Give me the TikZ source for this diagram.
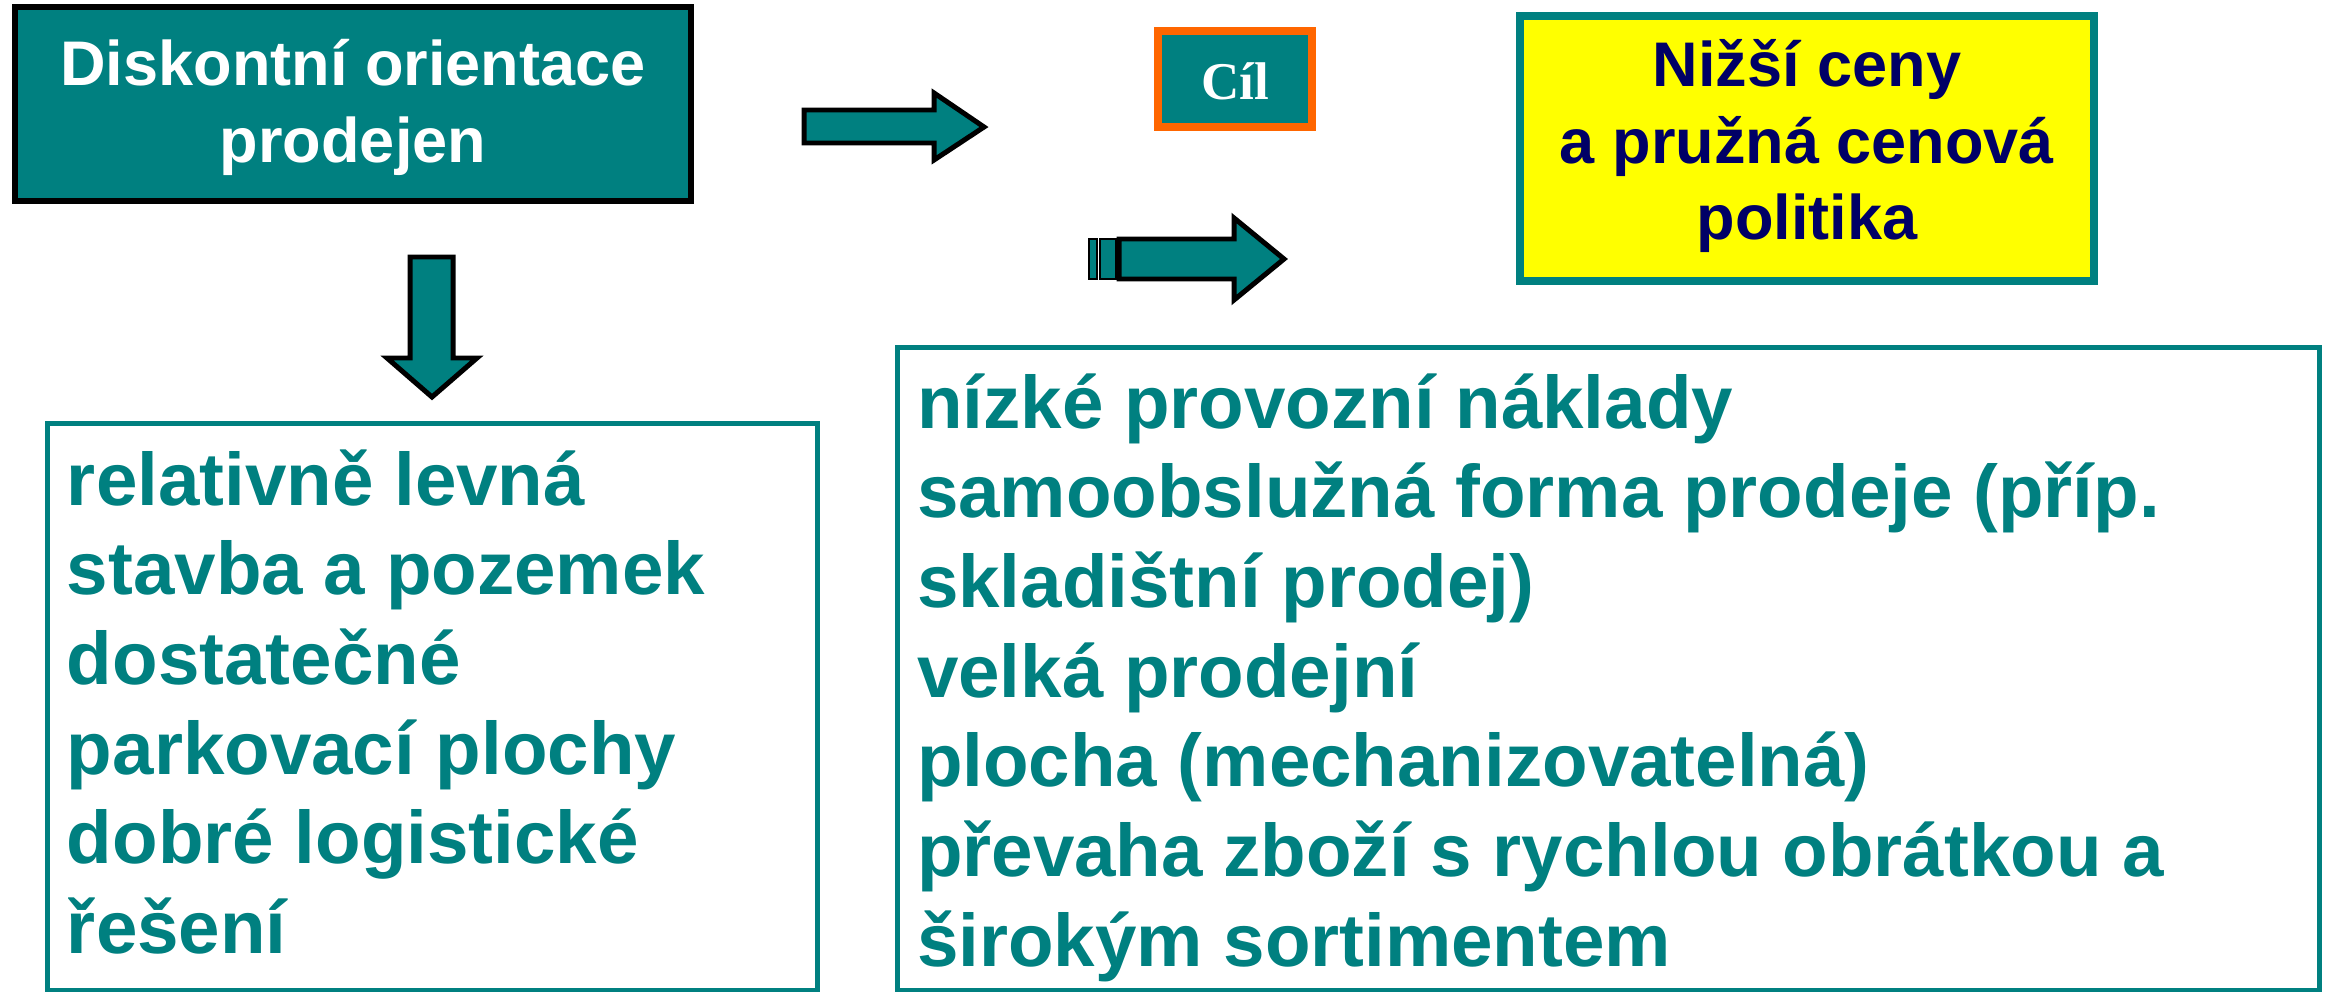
\documentclass[tikz,border=0pt]{standalone}
\usepackage{fontspec}
\setmainfont{Liberation Sans}
\newfontfamily\cilfont{Liberation Serif}
\definecolor{tealc}{RGB}{0,128,128}
\definecolor{navyc}{RGB}{0,0,102}
\definecolor{orangec}{RGB}{255,102,0}
\definecolor{yellowc}{RGB}{255,255,0}
\tikzset{
  boxbase/.style={rectangle, inner sep=0pt, outer sep=0pt},
  headbox/.style={boxbase, draw=black, fill=tealc, line width=1.71pt},
  cilbox/.style={boxbase, draw=orangec, fill=tealc, line width=2.28pt},
  goalbox/.style={boxbase, draw=tealc, fill=yellowc, line width=2.28pt},
  listbox/.style={boxbase, draw=tealc, fill=white, line width=1.42pt},
  txt/.style={inner sep=0pt, outer sep=0pt},
  headfont/.style={font=\fontsize{17.93pt}{21.62pt}\selectfont\bfseries},
  listfont/.style={font=\fontsize{21.2pt}{25.52pt}\selectfont\bfseries, text=tealc},
  blockarrow/.style={draw=black, fill=tealc, line width=1.42pt, line join=miter},
  stripe/.style={draw=black, fill=tealc, line width=0.8pt},
}
\begin{document}
\begin{tikzpicture}[x=0.01cm, y=-0.01cm]
\useasboundingbox (0,0) rectangle (2334,991);
\clip (0,0) rectangle (2334,991);

% boxes
\node[headbox, minimum width=6.76cm, minimum height=1.94cm] (disk) at (353,104) {};
\node[txt, headfont, text=white, anchor=base] (disktxt) at (353,86)
  {\parbox[t]{6.5cm}{\centering Diskontní orientace\\prodejen}};

\node[cilbox, minimum width=1.54cm, minimum height=0.96cm] (cil) at (1235,79) {};
\node[txt, anchor=base, text=white, font=\cilfont\fontsize{15.08pt}{18pt}\selectfont\bfseries] (ciltxt) at (1235,100) {Cíl};

\node[goalbox, minimum width=5.74cm, minimum height=2.65cm] (goal) at (1807,148.5) {};
\node[txt, headfont, text=navyc, anchor=base] (goaltxt) at (1807,87)
  {\parbox[t]{5.5cm}{\centering Nižší ceny\\a pružná cenová\\politika}};

\node[listbox, minimum width=7.7cm, minimum height=5.665cm] (left) at (432.5,706.75) {};
\node[txt, listfont, anchor=base west] (lefttxt) at (67,505)
  {\parbox[t]{7.4cm}{\raggedright relativně levná\\stavba a pozemek\\dostatečné\\parkovací plochy\\dobré logistické\\řešení}};

\node[listbox, minimum width=14.22cm, minimum height=6.425cm] (right) at (1608.5,668.75) {};
\node[txt, listfont, anchor=base west] (righttxt) at (917,428)
  {\parbox[t]{14cm}{\raggedright nízké provozní náklady\\samoobslužná forma prodeje (příp.\\skladištní prodej)\\velká prodejní\\plocha (mechanizovatelná)\\převaha zboží s rychlou obrátkou a\\širokým sortimentem}};

% block arrows
\draw[blockarrow] (804,110) -- (934,110) -- (934,93) -- (984,127) -- (934,160) -- (934,143) -- (804,143) -- cycle;
\draw[blockarrow] (410,257) -- (453,257) -- (453,358) -- (477,358) -- (432,397) -- (387,358) -- (410,358) -- cycle;
\draw[stripe] (1089,239) rectangle (1097,279);
\draw[stripe] (1100,239) rectangle (1116,279);
\draw[blockarrow] (1119,239) -- (1234,239) -- (1234,218) -- (1284,259) -- (1234,300) -- (1234,279) -- (1119,279) -- cycle;
\end{tikzpicture}
\end{document}
